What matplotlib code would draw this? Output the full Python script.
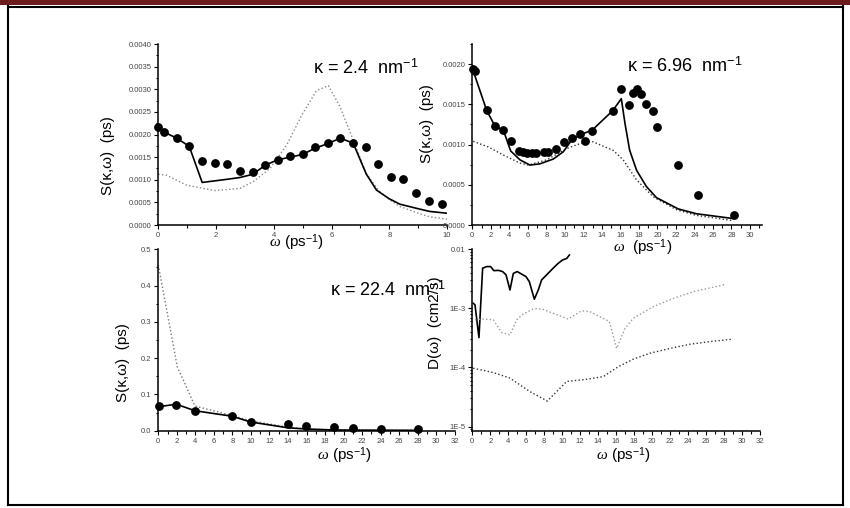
import numpy as np
import matplotlib
matplotlib.use('Agg')
import matplotlib.pyplot as plt
from matplotlib.ticker import MultipleLocator, FormatStrFormatter, FixedLocator, FixedFormatter, LogLocator, NullFormatter

plt.rcParams['font.family'] = ['Liberation Sans', 'DejaVu Sans']
plt.rcParams['mathtext.fontset'] = 'custom'
plt.rcParams['mathtext.rm'] = 'Liberation Sans'
plt.rcParams['mathtext.it'] = 'Liberation Serif:italic'

# panel 1: kappa = 2.4 nm^-1
w1_pts = [0.0, 0.21, 0.635, 1.07, 1.52, 1.96, 2.38, 2.83, 3.27, 3.7, 4.13, 4.57, 5.0, 5.44,
          5.88, 6.3, 6.75, 7.18, 7.62, 8.06, 8.49, 8.94, 9.38, 9.81]
s1_pts = [0.00216, 0.00205, 0.00192, 0.00174, 0.00142, 0.00136, 0.00135, 0.00119, 0.00118,
          0.00132, 0.00144, 0.00152, 0.00156, 0.00172, 0.00181, 0.00192, 0.00181, 0.00172,
          0.00135, 0.00106, 0.00101, 0.00071, 0.00054, 0.00047]
w1_sol = [0.0, 0.21, 0.635, 1.07, 1.52, 2.38, 2.83, 3.27, 3.7, 4.13, 4.57, 5.0, 5.44, 5.88,
          6.3, 6.75, 7.2, 7.56, 8.0, 8.37, 9.0, 9.4, 10.0]
s1_sol = [0.00216, 0.00205, 0.00192, 0.00174, 0.00094, 0.00101, 0.00105, 0.00112, 0.00132,
          0.00144, 0.00150, 0.00156, 0.00170, 0.00180, 0.00192, 0.00181, 0.00113, 0.00077,
          0.00058, 0.00046, 0.00036, 0.00030, 0.00026]
w1_dot = [0.0, 0.29, 0.98, 1.96, 2.83, 3.29, 3.87, 4.45, 4.97, 5.48, 5.89, 6.29, 6.75, 7.2,
          7.62, 8.0, 8.37, 9.0, 9.4, 10.0]
s1_dot = [0.00112, 0.00110, 0.00088, 0.00076, 0.00081, 0.00096, 0.00125, 0.00177, 0.00243,
          0.00297, 0.00308, 0.00262, 0.00188, 0.00114, 0.00077, 0.00056, 0.00041, 0.00026,
          0.00018, 0.00013]

# panel 2: kappa = 6.96 nm^-1
w2_pts = [0.1, 0.29, 1.55, 2.45, 3.35, 4.18, 5.04, 5.51, 5.94, 6.41, 6.88, 7.71, 8.21, 9.04,
          9.9, 10.8, 11.63, 12.13, 12.96, 15.16, 16.02, 16.92, 17.39, 17.82, 18.26, 18.72,
          19.55, 19.99, 22.18, 24.38, 28.3]
s2_pts = [0.001934, 0.00192, 0.001425, 0.00123, 0.001176, 0.00104, 0.00092, 0.00091, 0.0009,
          0.0009, 0.0009, 0.00091, 0.00091, 0.00094, 0.00103, 0.00108, 0.00113, 0.00105,
          0.00117, 0.00142, 0.00169, 0.00149, 0.00164, 0.00169, 0.00163, 0.00151, 0.00142,
          0.00122, 0.00075, 0.00037, 0.00013]
w2_sol = [0.0, 1.55, 2.45, 3.35, 4.15, 5.15, 6.23, 7.3, 8.75, 9.83, 10.7, 11.63, 12.96, 15.16,
          16.1, 16.5, 17.0, 17.75, 18.8, 19.9, 22.25, 24.2, 28.2]
s2_sol = [0.00195, 0.001425, 0.00123, 0.00118, 0.00092, 0.00081, 0.000745, 0.00076, 0.00082,
          0.00091, 0.00105, 0.00112, 0.00118, 0.00142, 0.00157, 0.00126, 0.00093, 0.00068,
          0.00048, 0.00034, 0.00020, 0.00014, 0.00008]
w2_dot = [0.1, 1.73, 3.35, 5.15, 6.05, 8.03, 10.2, 11.6, 12.9, 15.2, 16.3, 17.75, 19.55, 22.07,
          24.2, 28.2]
s2_dot = [0.00104, 0.00097, 0.00087, 0.00077, 0.000745, 0.00081, 0.00095, 0.00101, 0.00104,
          0.00093, 0.00081, 0.00056, 0.00035, 0.00019, 0.00012, 0.000054]

# panel 3: kappa = 22.4 nm^-1
w3_pts = [0.1, 1.94, 3.96, 7.95, 9.96, 14.03, 15.97, 19.0, 21.0, 24.0, 28.0]
s3_pts = [0.068, 0.072, 0.055, 0.040, 0.024, 0.0175, 0.0138, 0.011, 0.0074, 0.0055, 0.0037]
w3_sol = [0.0, 1.94, 3.96, 7.95, 9.96, 14.0, 16.0, 19.0, 22.0, 25.0, 28.0]
s3_sol = [0.066, 0.073, 0.055, 0.040, 0.024, 0.008, 0.0046, 0.002, 0.0015, 0.0012, 0.001]
w3_dot = [0.0, 2.05, 3.96, 7.95, 9.96, 14.0, 16.0, 19.0, 22.0, 25.0, 28.0]
s3_dot = [0.457, 0.176, 0.068, 0.042, 0.027, 0.010, 0.0046, 0.002, 0.0015, 0.0012, 0.001]

# panel 4: D(omega)
w4_a = [0.1, 0.3, 0.74, 1.15, 1.6, 2.04, 2.4, 2.9, 3.37, 3.75, 4.19, 4.56, 5.0, 5.49, 5.97,
        6.34, 6.9, 7.34, 7.71, 8.27, 9.0, 9.56, 10.05, 10.5, 10.8]
d4_a = [1.22e-3, 1.15e-3, 3.2e-4, 4.8e-3, 5.1e-3, 5.1e-3, 4.35e-3, 4.4e-3, 4.2e-3, 3.7e-3,
        2.05e-3, 3.9e-3, 4.2e-3, 3.8e-3, 3.45e-3, 2.84e-3, 1.43e-3, 2.05e-3, 3.03e-3, 3.7e-3,
        4.8e-3, 5.8e-3, 6.6e-3, 7.0e-3, 8.0e-3]
w4_b = [0.3, 1.22, 2.34, 3.26, 4.19, 4.93, 5.67, 6.79, 7.71, 10.68, 12.16, 13.09, 15.24, 16.05,
        16.98, 17.9, 20.13, 22.36, 24.58, 26.8, 28.2]
d4_b = [6.4e-4, 6.6e-4, 6.4e-4, 3.9e-4, 3.55e-4, 6.4e-4, 8.05e-4, 9.8e-4, 9.8e-4, 6.6e-4,
        9.1e-4, 8.8e-4, 6.0e-4, 2.1e-4, 4.6e-4, 6.8e-4, 1.07e-3, 1.48e-3, 1.92e-3, 2.28e-3,
        2.56e-3]
w4_c = [0.1, 2.34, 4.19, 6.41, 8.34, 10.5, 12.72, 14.57, 16.24, 17.9, 19.76, 21.99, 24.2,
        26.44, 28.85]
d4_c = [9.7e-5, 8.2e-5, 6.6e-5, 3.9e-5, 2.7e-5, 5.8e-5, 6.3e-5, 7.0e-5, 1.03e-4, 1.38e-4,
        1.74e-4, 2.1e-4, 2.47e-4, 2.74e-4, 3.0e-4]

W, H = 850, 508
fig = plt.figure(figsize=(W / 100, H / 100), dpi=100)


def px_axes(x0, y0, x1, y1):
    # pixel box (top-left origin) -> axes
    return fig.add_axes([x0 / W, 1 - y1 / H, (x1 - x0) / W, (y1 - y0) / H])


def px_text(x, y, s, **kw):
    fig.text(x / W, 1 - y / H, s, **kw)


def style(ax):
    for side in ['top', 'right']:
        ax.spines[side].set_visible(False)
    for side in ['left', 'bottom']:
        ax.spines[side].set_linewidth(1.1)
    ax.tick_params(which='both', direction='out', labelsize=5.5, labelcolor='#444444', width=0.8)
    ax.tick_params(which='major', length=3, pad=2)
    ax.tick_params(which='minor', length=1.8)
    ax.patch.set_alpha(0)


ax1 = px_axes(158.3, 44, 447, 225)
ax1.plot(w1_dot, s1_dot, ':', color='#888888', lw=1.0)
ax1.plot(w1_sol, s1_sol, '-', color='black', lw=1.2)
ax1.plot(w1_pts, s1_pts, 'o', color='black', ms=5.3, clip_on=False)
ax1.set_xlim(0, 10)
ax1.set_ylim(0, 0.004)
ax1.xaxis.set_major_locator(MultipleLocator(2))
ax1.xaxis.set_minor_locator(MultipleLocator(1))
ax1.yaxis.set_major_locator(MultipleLocator(0.0005))
ax1.yaxis.set_minor_locator(MultipleLocator(0.00025))
ax1.yaxis.set_major_formatter(FormatStrFormatter('%.4f'))
style(ax1)

ax2 = px_axes(472.3, 44, 762, 225)
ax2.plot(w2_dot, s2_dot, ':', color='#333333', lw=1.0)
ax2.plot(w2_sol, s2_sol, '-', color='black', lw=1.2)
ax2.plot(w2_pts, s2_pts, 'o', color='black', ms=5.3, clip_on=False)
ax2.set_xlim(0, 31.3)
ax2.set_ylim(0, 0.00225)
ax2.xaxis.set_major_locator(MultipleLocator(2))
ax2.xaxis.set_minor_locator(MultipleLocator(1))
ax2.yaxis.set_major_locator(MultipleLocator(0.0005))
ax2.yaxis.set_minor_locator(MultipleLocator(0.00025))
ax2.yaxis.set_major_formatter(FormatStrFormatter('%.4f'))
style(ax2)

ax3 = px_axes(158.3, 249.3, 454.7, 430.7)
ax3.plot(w3_dot, s3_dot, ':', color='#777777', lw=1.0)
ax3.plot(w3_sol, s3_sol, '-', color='black', lw=1.2)
ax3.plot(w3_pts, s3_pts, 'o', color='black', ms=5.3, clip_on=False)
ax3.set_xlim(0, 32)
ax3.set_ylim(0, 0.5)
ax3.xaxis.set_major_locator(MultipleLocator(2))
ax3.xaxis.set_minor_locator(MultipleLocator(1))
ax3.yaxis.set_major_locator(MultipleLocator(0.1))
ax3.yaxis.set_minor_locator(MultipleLocator(0.05))
ax3.yaxis.set_major_formatter(FormatStrFormatter('%.1f'))
style(ax3)

ax4 = px_axes(472.3, 249.3, 760, 430.7)
ax4.plot(w4_a, d4_a, '-', color='black', lw=1.2)
ax4.plot(w4_b, d4_b, ':', color='#999999', lw=1.0)
ax4.plot(w4_c, d4_c, ':', color='#333333', lw=1.0)
ax4.set_yscale('log')
ax4.set_xlim(0, 32)
ax4.set_ylim(8.5e-6, 0.01)
ax4.xaxis.set_major_locator(MultipleLocator(2))
ax4.xaxis.set_minor_locator(MultipleLocator(1))
ax4.yaxis.set_major_locator(FixedLocator([1e-5, 1e-4, 1e-3, 1e-2]))
ax4.yaxis.set_major_formatter(FixedFormatter(['1E-5', '1E-4', '1E-3', '0.01']))
ax4.yaxis.set_minor_locator(LogLocator(base=10, subs=np.arange(2, 10)))
ax4.yaxis.set_minor_formatter(NullFormatter())
style(ax4)

# labels and annotations
kap = dict(fontsize=13, color='black', ha='left', va='center')
px_text(313, 68, r'κ = 2.4  nm$^{-1}$', **kap)
px_text(627, 66, r'κ = 6.96  nm$^{-1}$', **kap)
px_text(330, 290, r'κ = 22.4  nm$^{-1}$', **kap)

xl = dict(fontsize=11, color='black', ha='center', va='center')
px_text(296, 243, r'$\omega$ (ps$^{-1}$)', **xl)
px_text(643, 248, r'$\omega$  (ps$^{-1}$)', **xl)
px_text(344, 456, r'$\omega$ (ps$^{-1}$)', **xl)
px_text(623, 456, r'$\omega$ (ps$^{-1}$)', **xl)

yl = dict(fontsize=11, color='black', ha='center', va='center', rotation=90)
px_text(108, 156, 'S(κ,ω)  (ps)', **yl)
px_text(427, 124, 'S(κ,ω)  (ps)', **yl)
px_text(123, 363, 'S(κ,ω)  (ps)', **yl)
px_text(435, 323, 'D(ω)  (cm2/s)', **yl)

# page frame
fig.add_artist(plt.Rectangle((0, 1 - 5 / H), 1, 5 / H, transform=fig.transFigure,
                             color='#6b1d1d', lw=0))
fig.add_artist(plt.Line2D([7.5 / W, 7.5 / W], [1 - 6 / H, 1 - 505 / H],
                          transform=fig.transFigure, color='black', lw=1.5))
fig.add_artist(plt.Line2D([843 / W, 843 / W], [1 - 6 / H, 1 - 505 / H],
                          transform=fig.transFigure, color='black', lw=1.5))
fig.add_artist(plt.Line2D([7.5 / W, 843 / W], [1 - 505 / H, 1 - 505 / H],
                          transform=fig.transFigure, color='black', lw=1.5))
fig.add_artist(plt.Line2D([7.5 / W, 843 / W], [1 - 6.5 / H, 1 - 6.5 / H],
                          transform=fig.transFigure, color='black', lw=1.5))

fig.savefig('out.png', dpi=100)
